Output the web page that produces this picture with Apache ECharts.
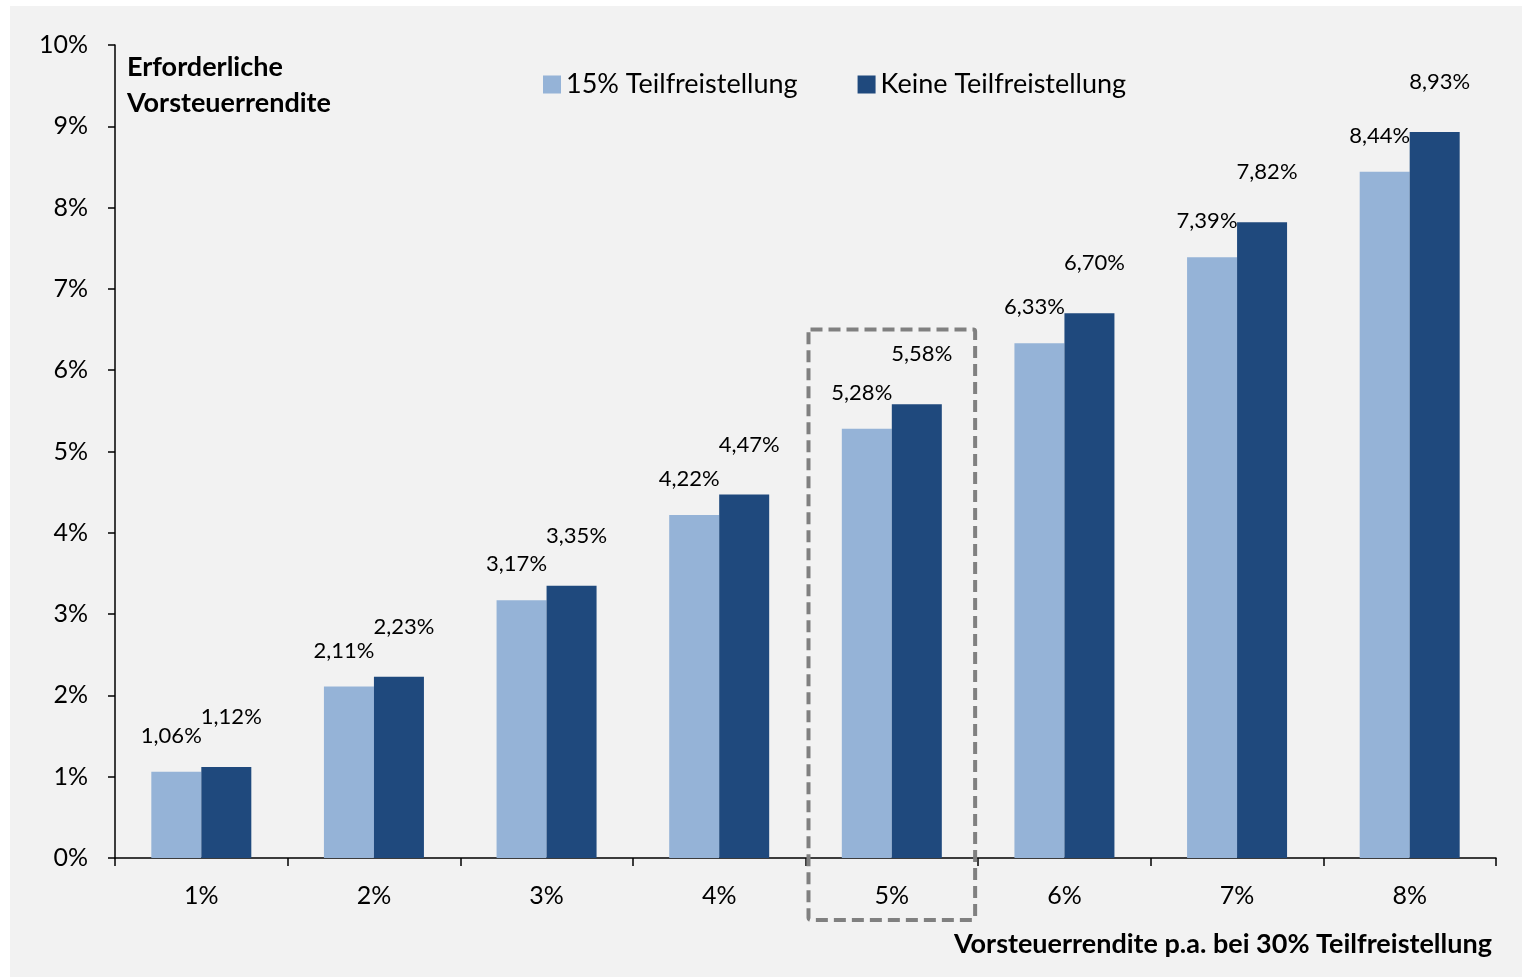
<!DOCTYPE html>
<html>
<head>
<meta charset="utf-8">
<script src="https://cdn.jsdelivr.net/npm/echarts@6/dist/echarts.min.js"></script>
<style>
html,body{margin:0;padding:0;background:#ffffff;width:1522px;height:977px;overflow:hidden;}
#chart{position:absolute;left:10px;top:6px;width:1512px;height:971px;background:#f2f2f2;}
</style>
</head>
<body>
<div id="chart"></div>
<script>
const categories = ['1%', '2%', '3%', '4%', '5%', '6%', '7%', '8%'];
const seriesNames = ['15% Teilfreistellung', 'Keine Teilfreistellung'];
const partial15 = [1.06, 2.11, 3.17, 4.22, 5.28, 6.33, 7.39, 8.44];
const noPartial = [1.12, 2.23, 3.35, 4.47, 5.58, 6.70, 7.82, 8.93];
const yTicks = [0, 1, 2, 3, 4, 5, 6, 7, 8, 9, 10];
const highlightCategory = '5%';
const highlightTop = 6.5;

const FONT = 'Lato, "Open Sans", sans-serif';
const chart = echarts.init(document.getElementById('chart'));
const fmt = v => v.toFixed(2).replace('.', ',') + '%';

const option = {
  backgroundColor: '#f2f2f2',
  animation: false,
  textStyle: { fontFamily: FONT, color: '#000' },
  title: [
    {
      text: 'Erforderliche\nVorsteuerrendite',
      left: 117, top: 43, padding: 0,
      textStyle: { fontFamily: FONT, fontSize: 27, fontWeight: 'bold', color: '#000', lineHeight: 36 }
    },
    {
      text: 'Vorsteuerrendite p.a. bei 30% Teilfreistellung',
      right: 30, top: 925, padding: 0,
      textStyle: { fontFamily: FONT, fontSize: 27, fontWeight: 'bold', color: '#000' }
    }
  ],
  legend: {
    data: seriesNames,
    left: 528, top: 60,
    itemWidth: 18, itemHeight: 18, itemGap: 60,
    icon: 'rect',
    textStyle: { fontFamily: FONT, fontSize: 27, color: '#000' }
  },
  grid: { left: 105, right: 26, top: 39, bottom: 119, containLabel: false },
  xAxis: {
    type: 'category',
    data: categories,
    axisLine: { lineStyle: { color: '#000', width: 1.5 } },
    axisTick: { show: true, length: 8, lineStyle: { color: '#000', width: 1.5 } },
    axisLabel: { fontFamily: FONT, fontSize: 25, color: '#000', margin: 25 },
    splitLine: { show: false }
  },
  yAxis: {
    type: 'value',
    min: yTicks[0], max: yTicks[yTicks.length - 1], interval: 1,
    axisLine: { show: true, lineStyle: { color: '#000', width: 1.5 } },
    axisTick: { show: true, length: 7, lineStyle: { color: '#000', width: 1.5 } },
    axisLabel: { fontFamily: FONT, fontSize: 25, color: '#000', margin: 27, formatter: '{value}%' },
    splitLine: { show: false }
  },
  series: [
    {
      name: seriesNames[0],
      type: 'bar',
      data: partial15,
      barWidth: 50,
      barGap: '0%',
      itemStyle: { color: '#95b3d7' },
      label: {
        show: true, position: 'top', distance: 25, offset: [-5, 0],
        fontFamily: FONT, fontSize: 22, color: '#000',
        formatter: p => fmt(p.value)
      }
    },
    {
      name: seriesNames[1],
      type: 'bar',
      data: noPartial,
      barWidth: 50,
      barGap: '0%',
      itemStyle: { color: '#1f497d' },
      label: {
        show: true, position: 'top', distance: 39, offset: [5, 0],
        fontFamily: FONT, fontSize: 22, color: '#000',
        formatter: p => fmt(p.value)
      }
    }
  ]
};
chart.setOption(option);

// dashed highlight box around the 5% category
const idx = categories.indexOf(highlightCategory);
const cx = chart.convertToPixel({ xAxisIndex: 0 }, idx);
const c2 = chart.convertToPixel({ xAxisIndex: 0 }, idx + 1);
const band = c2 - cx;
const yTop = chart.convertToPixel({ yAxisIndex: 0 }, highlightTop);
const yZero = chart.convertToPixel({ yAxisIndex: 0 }, 0);
chart.setOption({
  graphic: [{
    type: 'rect',
    z: 100,
    shape: { x: cx - band / 2 + 3, y: yTop, width: band - 6, height: (yZero - yTop) + 62, r: 2 },
    style: { fill: 'none', stroke: '#808080', lineWidth: 4, lineDash: [12, 6] }
  }]
});
</script>
</body>
</html>
